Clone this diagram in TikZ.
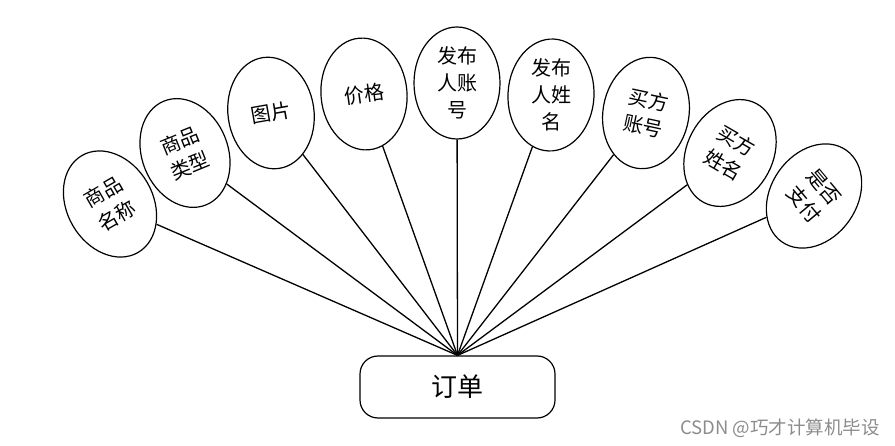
\documentclass[tikz,border=0pt]{standalone}
\usepackage{fontspec}
\newfontfamily\cjk{Noto Sans CJK SC}
\usetikzlibrary{shapes.geometric}
\begin{document}
\begin{tikzpicture}[x=1pt,y=-1pt,
 attr/.style={draw, ellipse, line width=1.2pt, minimum width=86pt, minimum height=112pt, inner sep=0pt},
 lbl/.style={font=\cjk\fontsize{20}{27}\selectfont, align=center, inner sep=0pt},
 link/.style={line width=1.3pt},
 ent/.style={draw, rounded corners=18pt, line width=1.2pt, minimum width=195pt, minimum height=62pt, font=\cjk\fontsize{26}{30}\selectfont},
 wmk/.style={font=\cjk\fontsize{18.5}{22}\selectfont, text=black!45, inner sep=0pt}]
\useasboundingbox (0,0) rectangle (895,446);
\node[ent] (o) at (457.5,387) {订单};
\node[attr, rotate=30] (e1) at (110,204) {};
\node[lbl, rotate=30] (t1) at (110,204) {商品\\名称};
\node[attr, rotate=22] (e2) at (185,153) {};
\node[lbl, rotate=22] (t2) at (185,153) {商品\\类型};
\node[attr, rotate=8] (e3) at (271,113) {};
\node[lbl, rotate=10] (t3) at (271,113) {图片};
\node[attr, rotate=5] (e4) at (364,94) {};
\node[lbl, rotate=8] (t4) at (364,94) {价格};
\node[attr] (e5) at (457,83) {};
\node[lbl] (t5) at (457,83) {发布\\人账\\号};
\node[attr, rotate=-3] (e6) at (551,95) {};
\node[lbl] (t6) at (551,95) {发布\\人姓\\名};
\node[attr, rotate=-10] (e7) at (646,113) {};
\node[lbl, rotate=-12] (t7) at (646,113) {买方\\账号};
\node[attr, rotate=-28] (e8) at (730,153) {};
\node[lbl, rotate=-30] (t8) at (730,153) {买方\\姓名};
\node[attr, rotate=-35] (e9) at (814,196) {};
\node[lbl, rotate=-50] (t9) at (814,196) {是否\\支付};
\foreach \i in {1,...,9} {\draw[link] (e\i) -- (o.north);}
\node[wmk, anchor=east] (wm) at (880,428) {CSDN @巧才计算机毕设};
\end{tikzpicture}
\end{document}
